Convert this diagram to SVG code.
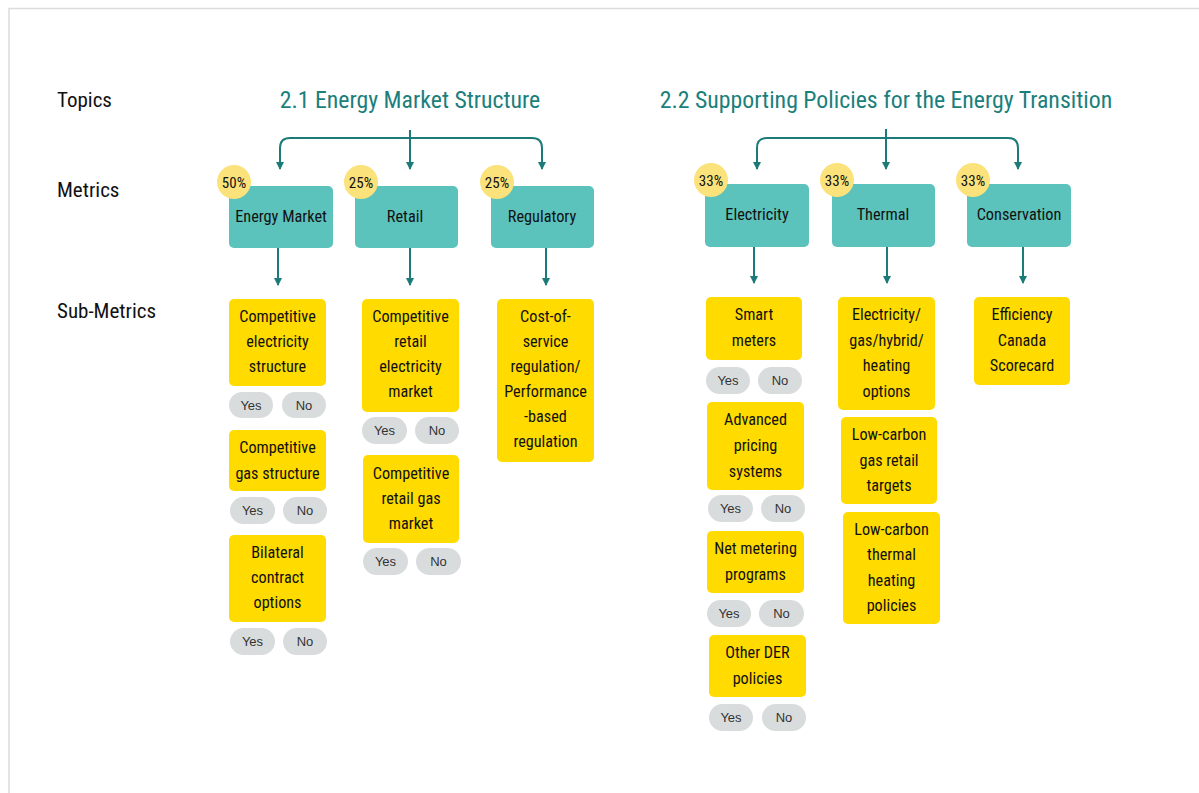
<svg xmlns="http://www.w3.org/2000/svg" width="1199" height="793" viewBox="0 0 1199 793">
<defs>
<marker id="arr" viewBox="0 0 8 8" refX="7" refY="4" markerWidth="8" markerHeight="8" markerUnits="userSpaceOnUse" orient="auto"><path d="M0,0 L8,4 L0,8 z" fill="#1b7b78"/></marker>
<style>
.c{font-family:"Liberation Sans Narrow","Roboto Condensed","DejaVu Sans Condensed",sans-serif;font-stretch:condensed;}
.lab{font-size:21px;fill:#111;}
.title{font-size:23.8px;fill:#1b7f7b;text-anchor:middle;}
.met{fill:#5bc2bc;}
.mt{font-size:16.3px;fill:#111;text-anchor:middle;}
.badge{fill:#fce27b;}
.bt{font-size:15px;fill:#111;text-anchor:middle;}
.sub{fill:#ffdb00;}
.st{font-size:16.2px;fill:#111;text-anchor:middle;}
.pill{fill:#d9dcdd;}
.pt{font-family:"Liberation Sans",Arial,sans-serif;font-size:13px;fill:#333;text-anchor:middle;}
.ln{fill:none;stroke:#1b7b78;stroke-width:2;}
</style>
</defs>
<rect width="1199" height="793" fill="#fff"/>
<path d="M9,793 V8.5 H1199" fill="none" stroke="#dcdcdc" stroke-width="1.5"/>

<g id="row-labels" class="c">
<text class="lab" x="57" y="107">Topics</text>
<text class="lab" x="57" y="197">Metrics</text>
<text class="lab" x="57" y="318">Sub-Metrics</text>
</g>

<g id="topic-2-1" class="c"><text class="title" x="410" y="108">2.1 Energy Market Structure</text></g>
<g id="topic-2-2" class="c"><text class="title" x="886" y="108">2.2 Supporting Policies for the Energy Transition</text></g>

<g id="connectors">
<path class="ln" d="M410,130 V169" marker-end="url(#arr)"/>
<path class="ln" d="M280,169 V148 Q280,138 290,138 H532 Q542,138 542,148 V169" marker-end="url(#arr)"/>
<path class="ln" d="M280,148 V169" marker-end="url(#arr)"/>
<path class="ln" d="M278,248 V285" marker-end="url(#arr)"/>
<path class="ln" d="M410,248 V285" marker-end="url(#arr)"/>
<path class="ln" d="M546,248 V285" marker-end="url(#arr)"/>
<path class="ln" d="M886,129 V169" marker-end="url(#arr)"/>
<path class="ln" d="M757,169 V148 Q757,138 767,138 H1008 Q1018,138 1018,148 V169" marker-end="url(#arr)"/>
<path class="ln" d="M757,148 V169" marker-end="url(#arr)"/>
<path class="ln" d="M754,247 V283" marker-end="url(#arr)"/>
<path class="ln" d="M887,247 V283" marker-end="url(#arr)"/>
<path class="ln" d="M1023,247 V283" marker-end="url(#arr)"/>
</g>

<g id="m-energy-market" class="c">
<rect class="met" x="229" y="186" width="104" height="62" rx="5"/>
<circle class="badge" cx="234" cy="182" r="17"/>
<text class="bt" x="234" y="187.5">50%</text>
<text class="mt" x="281" y="222">Energy Market</text>
</g>
<g id="m-retail" class="c">
<rect class="met" x="355" y="186" width="103" height="62" rx="5"/>
<circle class="badge" cx="361" cy="182" r="17"/>
<text class="bt" x="361" y="187.5">25%</text>
<text class="mt" x="405" y="222">Retail</text>
</g>
<g id="m-regulatory" class="c">
<rect class="met" x="491" y="186" width="103" height="62" rx="5"/>
<circle class="badge" cx="497" cy="182" r="17"/>
<text class="bt" x="497" y="187.5">25%</text>
<text class="mt" x="542" y="222">Regulatory</text>
</g>
<g id="m-electricity" class="c">
<rect class="met" x="705" y="184" width="104" height="63" rx="5"/>
<circle class="badge" cx="711" cy="180" r="17"/>
<text class="bt" x="711" y="185.5">33%</text>
<text class="mt" x="757" y="220">Electricity</text>
</g>
<g id="m-thermal" class="c">
<rect class="met" x="832" y="184" width="103" height="63" rx="5"/>
<circle class="badge" cx="837" cy="180" r="17"/>
<text class="bt" x="837" y="185.5">33%</text>
<text class="mt" x="883" y="220">Thermal</text>
</g>
<g id="m-conservation" class="c">
<rect class="met" x="967" y="184" width="104" height="63" rx="5"/>
<circle class="badge" cx="973" cy="180" r="17"/>
<text class="bt" x="973" y="185.5">33%</text>
<text class="mt" x="1019" y="220">Conservation</text>
</g>

<g id="s-comp-elec-structure" class="c">
<rect class="sub" x="229" y="299" width="97" height="87" rx="5"/>
<text class="st" x="277.5" y="322">Competitive</text>
<text class="st" x="277.5" y="347">electricity</text>
<text class="st" x="277.5" y="372">structure</text>
</g>
<g id="yn-1">
<rect class="pill" x="229" y="392" width="44" height="26" rx="13"/><text class="pt" x="251" y="410">Yes</text>
<rect class="pill" x="282" y="392" width="44" height="26" rx="13"/><text class="pt" x="304" y="410">No</text>
</g>
<g id="s-comp-gas-structure" class="c">
<rect class="sub" x="229" y="430" width="97" height="61" rx="5"/>
<text class="st" x="277.5" y="453">Competitive</text>
<text class="st" x="277.5" y="479">gas structure</text>
</g>
<g id="yn-2">
<rect class="pill" x="230" y="497" width="45" height="27" rx="13.5"/><text class="pt" x="252.5" y="515">Yes</text>
<rect class="pill" x="283" y="497" width="44" height="27" rx="13.5"/><text class="pt" x="305" y="515">No</text>
</g>
<g id="s-bilateral" class="c">
<rect class="sub" x="229" y="535" width="97" height="87" rx="5"/>
<text class="st" x="277.5" y="558">Bilateral</text>
<text class="st" x="277.5" y="583">contract</text>
<text class="st" x="277.5" y="608">options</text>
</g>
<g id="yn-3">
<rect class="pill" x="230" y="628" width="45" height="27" rx="13.5"/><text class="pt" x="252.5" y="646">Yes</text>
<rect class="pill" x="283" y="628" width="44" height="27" rx="13.5"/><text class="pt" x="305" y="646">No</text>
</g>

<g id="s-comp-retail-elec" class="c">
<rect class="sub" x="362" y="299" width="97" height="113" rx="5"/>
<text class="st" x="410.5" y="322">Competitive</text>
<text class="st" x="410.5" y="347">retail</text>
<text class="st" x="410.5" y="372">electricity</text>
<text class="st" x="410.5" y="397">market</text>
</g>
<g id="yn-4">
<rect class="pill" x="362" y="417" width="45" height="27" rx="13.5"/><text class="pt" x="384.5" y="435">Yes</text>
<rect class="pill" x="415" y="417" width="44" height="27" rx="13.5"/><text class="pt" x="437" y="435">No</text>
</g>
<g id="s-comp-retail-gas" class="c">
<rect class="sub" x="363" y="455" width="96" height="88" rx="5"/>
<text class="st" x="411" y="479">Competitive</text>
<text class="st" x="411" y="504">retail gas</text>
<text class="st" x="411" y="529">market</text>
</g>
<g id="yn-5">
<rect class="pill" x="363" y="548" width="45" height="27" rx="13.5"/><text class="pt" x="385.5" y="566">Yes</text>
<rect class="pill" x="416" y="548" width="45" height="27" rx="13.5"/><text class="pt" x="438.5" y="566">No</text>
</g>

<g id="s-cost-of-service" class="c">
<rect class="sub" x="497" y="299" width="97" height="163" rx="5"/>
<text class="st" x="545.5" y="322">Cost-of-</text>
<text class="st" x="545.5" y="347">service</text>
<text class="st" x="545.5" y="372">regulation/</text>
<text class="st" x="545.5" y="397">Performance</text>
<text class="st" x="545.5" y="422">-based</text>
<text class="st" x="545.5" y="447">regulation</text>
</g>

<g id="s-smart-meters" class="c">
<rect class="sub" x="706" y="297" width="96" height="63" rx="5"/>
<text class="st" x="754" y="320">Smart</text>
<text class="st" x="754" y="346">meters</text>
</g>
<g id="yn-6">
<rect class="pill" x="706" y="367" width="44" height="27" rx="13.5"/><text class="pt" x="728" y="385">Yes</text>
<rect class="pill" x="758" y="367" width="44" height="27" rx="13.5"/><text class="pt" x="780" y="385">No</text>
</g>
<g id="s-advanced-pricing" class="c">
<rect class="sub" x="707" y="402" width="97" height="88" rx="5"/>
<text class="st" x="755.5" y="425">Advanced</text>
<text class="st" x="755.5" y="451">pricing</text>
<text class="st" x="755.5" y="477">systems</text>
</g>
<g id="yn-7">
<rect class="pill" x="708" y="495" width="45" height="27" rx="13.5"/><text class="pt" x="730.5" y="513">Yes</text>
<rect class="pill" x="761" y="495" width="44" height="27" rx="13.5"/><text class="pt" x="783" y="513">No</text>
</g>
<g id="s-net-metering" class="c">
<rect class="sub" x="707" y="531" width="97" height="62" rx="5"/>
<text class="st" x="755.5" y="554">Net metering</text>
<text class="st" x="755.5" y="580">programs</text>
</g>
<g id="yn-8">
<rect class="pill" x="707" y="600" width="44" height="27" rx="13.5"/><text class="pt" x="729" y="618">Yes</text>
<rect class="pill" x="759" y="600" width="45" height="27" rx="13.5"/><text class="pt" x="781.5" y="618">No</text>
</g>
<g id="s-other-der" class="c">
<rect class="sub" x="709" y="635" width="97" height="62" rx="5"/>
<text class="st" x="757.5" y="658">Other DER</text>
<text class="st" x="757.5" y="684">policies</text>
</g>
<g id="yn-9">
<rect class="pill" x="709" y="704" width="44" height="27" rx="13.5"/><text class="pt" x="731" y="722">Yes</text>
<rect class="pill" x="762" y="704" width="44" height="27" rx="13.5"/><text class="pt" x="784" y="722">No</text>
</g>

<g id="s-heating-options" class="c">
<rect class="sub" x="838" y="297" width="97" height="113" rx="5"/>
<text class="st" x="886.5" y="320">Electricity/</text>
<text class="st" x="886.5" y="346">gas/hybrid/</text>
<text class="st" x="886.5" y="371">heating</text>
<text class="st" x="886.5" y="397">options</text>
</g>
<g id="s-low-carbon-gas" class="c">
<rect class="sub" x="841" y="417" width="96" height="87" rx="5"/>
<text class="st" x="889" y="440">Low-carbon</text>
<text class="st" x="889" y="466">gas retail</text>
<text class="st" x="889" y="491">targets</text>
</g>
<g id="s-low-carbon-thermal" class="c">
<rect class="sub" x="843" y="512" width="97" height="112" rx="5"/>
<text class="st" x="891.5" y="535">Low-carbon</text>
<text class="st" x="891.5" y="560">thermal</text>
<text class="st" x="891.5" y="586">heating</text>
<text class="st" x="891.5" y="611">policies</text>
</g>

<g id="s-efficiency-canada" class="c">
<rect class="sub" x="974" y="297" width="96" height="88" rx="5"/>
<text class="st" x="1022" y="320">Efficiency</text>
<text class="st" x="1022" y="346">Canada</text>
<text class="st" x="1022" y="371">Scorecard</text>
</g>
</svg>
